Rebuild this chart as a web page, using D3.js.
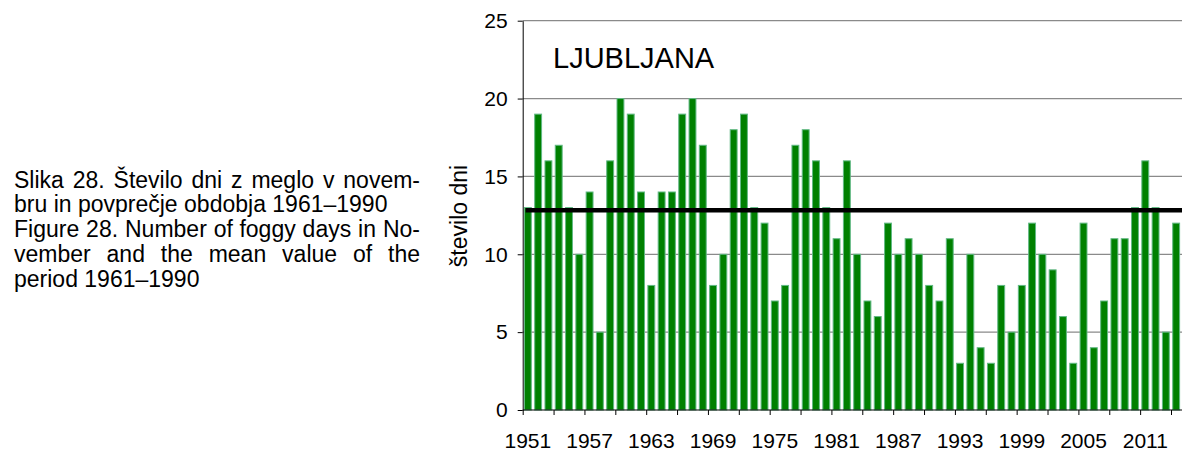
<!DOCTYPE html>
<html>
<head>
<meta charset="utf-8">
<script src="https://cdn.jsdelivr.net/npm/d3@7"></script>
<style>
  body { margin: 0; background: #fff; }
  text { font-family: "Liberation Sans", Arial, sans-serif; fill: #000; }
</style>
</head>
<body>
<div class="chart"></div>
<script>
// data: number of foggy days in November, Ljubljana
var years = d3.range(1951, 2015)
var foggyDays = [13, 19, 16, 17, 13, 10, 14, 5, 16, 20,
                 19, 14, 8, 14, 14, 19, 20, 17, 8, 10,
                 18, 19, 13, 12, 7, 8, 17, 18, 16, 13,
                 11, 16, 10, 7, 6, 12, 10, 11, 10, 8,
                 7, 11, 3, 10, 4, 3, 8, 5, 8, 12,
                 10, 9, 6, 3, 12, 4, 7, 11, 11, 13,
                 16, 13, 5, 12]
var refPeriod = [1961, 1990]
var yTicks = [0, 5, 10, 15, 20, 25]
var xLabelYears = d3.range(1951, 2015, 6)
var xTickYears = d3.range(1951, 2015, 3)

var captionLines = ["Slika 28. Število dni z meglo v novem-",
                    "bru in povprečje obdobja 1961–1990",
                    "Figure 28. Number of foggy days in No-",
                    "vember and the mean value of the",
                    "period 1961–1990"]
var captionJustify = [true, false, true, true, false]

var width = 1182,
    height = 452
// plot area (note: "top" is taken by window.top, so prefix everything)
var plotLeft = 522.7, plotRight = 1181.3, plotTop = 20.7, plotBottom = 410

var svg = d3.select(".chart").append("svg")
    .attr("width", width)
    .attr("height", height)

var x = d3.scaleBand().domain(years).range([plotLeft, plotRight]).paddingInner(0.33).paddingOuter(0.165)
// boundaries between categories, for the tick marks
var xb = d3.scaleLinear().domain([1951, 2015]).range([plotLeft, plotRight])
var y = d3.scaleLinear().domain([0, 25]).range([plotBottom, plotTop])

// grid lines
svg.append("g")
  .selectAll("line")
  .data(yTicks.slice(1))
  .enter()
  .append("line")
    .attr("x1", plotLeft)
    .attr("x2", width)
    .attr("y1", d => y(d))
    .attr("y2", d => y(d))
    .attr("stroke", "#8a8a8a")
    .attr("stroke-width", 1.2)

// bars
svg.append("g")
  .selectAll("rect")
  .data(years)
  .enter()
  .append("rect")
    .attr("x", d => x(d))
    .attr("y", (d, i) => y(foggyDays[i]))
    .attr("width", x.bandwidth())
    .attr("height", (d, i) => y(0) - y(foggyDays[i]))
    .attr("fill", "#008000")
    .attr("stroke", "#62b985")
    .attr("stroke-width", 1)

// mean of the reference period
var refMean = d3.mean(years.map((yr, i) => (yr >= refPeriod[0] && yr <= refPeriod[1]) ? foggyDays[i] : null)
                          .filter(v => v !== null))
svg.append("path")
  .datum([x(years[0]) + x.bandwidth() / 2, width])
  .attr("d", d3.line().x(d => d).y(() => y(refMean)))
  .attr("stroke", "#000")
  .attr("stroke-width", 4.5)
  .attr("stroke-linecap", "square")
  .attr("fill", "none")

// y axis
var yAxis = svg.append("g")
  .attr("transform", "translate(" + plotLeft + ",0)")
  .call(d3.axisLeft(y).tickValues(yTicks).tickSize(5).tickSizeOuter(0).tickPadding(10))
yAxis.selectAll("text").style("font-size", "21px").style("font-family", "Liberation Sans, Arial, sans-serif")
yAxis.selectAll("line, path").attr("stroke", "#000")

// x axis: ticks at category boundaries, labels at centers
var xTicks = svg.append("g")
  .attr("transform", "translate(0," + plotBottom + ")")
  .call(d3.axisBottom(xb).tickValues(xTickYears).tickSize(5).tickSizeOuter(0).tickFormat(""))
xTicks.select(".domain").remove()
xTicks.selectAll("line").attr("stroke", "#000")

var xAxis = svg.append("g")
  .attr("transform", "translate(0," + plotBottom + ")")
  .call(d3.axisBottom(x).tickValues(xLabelYears).tickSize(0).tickSizeOuter(0).tickPadding(23))
xAxis.selectAll("text").style("font-size", "21px").style("font-family", "Liberation Sans, Arial, sans-serif")
xAxis.select(".domain").attr("stroke", "#000").attr("d", "M" + plotLeft + ",0H" + width)

// axis title
svg.append("text")
  .attr("transform", "translate(467,216) rotate(-90)")
  .attr("text-anchor", "middle")
  .style("font-size", "23px")
  .text("število dni")

// station name
svg.append("text")
  .attr("x", 553)
  .attr("y", 67.5)
  .style("font-size", "29px")
  .text("LJUBLJANA")

// caption on the left, justified like the original
var capLeft = 14, capRight = 420
var caption = svg.append("g")
captionLines.forEach(function(line, i) {
  var t = caption.append("text")
    .attr("y", 187.5 + i * 24.8)
    .style("font-size", "23px")
  var words = line.split(" ")
  var spans = words.map(w => t.append("tspan").text(w))
  var widths = spans.map(s => s.node().getComputedTextLength())
  var space = captionJustify[i]
    ? (capRight - capLeft - d3.sum(widths)) / (words.length - 1)
    : 23 * 0.278
  var pos = capLeft
  spans.forEach(function(s, j) {
    s.attr("x", pos)
    pos += widths[j] + space
  })
})
</script>
</body>
</html>
